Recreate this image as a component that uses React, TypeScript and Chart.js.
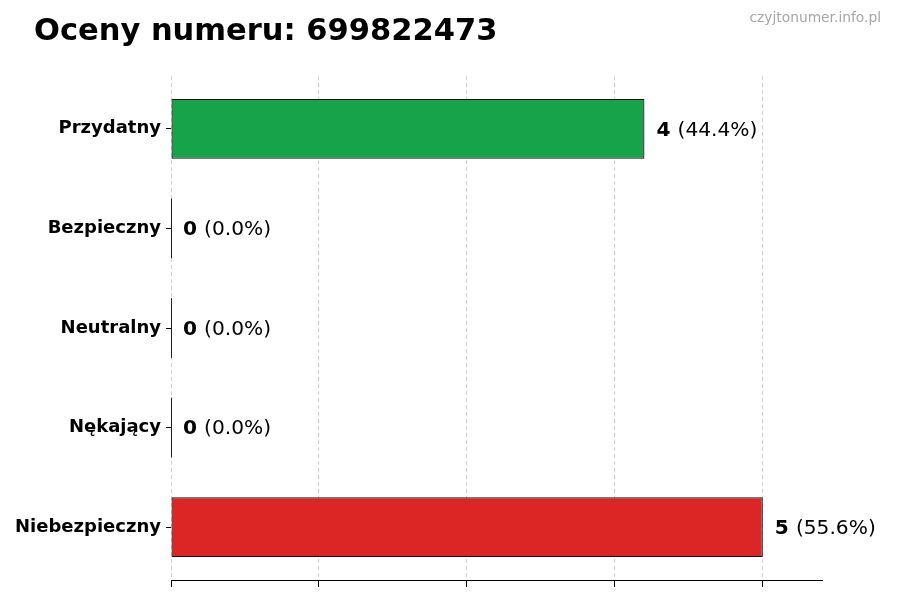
import { useEffect, useRef } from 'react'
import { Chart, registerables } from 'chart.js'

Chart.register(...registerables)

const title = 'Oceny numeru: 699822473'
const watermark = 'czyjtonumer.info.pl'
const categories = ['Przydatny', 'Bezpieczny', 'Neutralny', 'Nękający', 'Niebezpieczny']
const counts = [4, 0, 0, 0, 5]
const barColors = ['#16a34a', '#3b82f6', '#9ca3af', '#f97316', '#dc2626']
const xTicks = [0, 1.25, 2.5, 3.75, 5]
const xMax = 5.5

const FONT = '"DejaVu Sans", sans-serif'

export default function App() {
  const canvasRef = useRef<HTMLCanvasElement>(null)
  const chartRef = useRef<Chart | null>(null)

  useEffect(() => {
    if (!canvasRef.current) return
    const total = counts.reduce((a, b) => a + b, 0)

    const overlay = {
      id: 'overlay',
      afterDatasetsDraw(chart: any) {
        const ctx = chart.ctx
        const meta = chart.getDatasetMeta(0)
        ctx.save()
        meta.data.forEach((el: any, i: number) => {
          const v = counts[i]
          // zero-length bars still show their edge
          if (v === 0) {
            ctx.strokeStyle = '#222'
            ctx.lineWidth = 1
            ctx.beginPath()
            ctx.moveTo(el.x + 0.5, el.y - el.height / 2)
            ctx.lineTo(el.x + 0.5, el.y + el.height / 2)
            ctx.stroke()
          }
          const pct = ((v / total) * 100).toFixed(1)
          const x0 = el.x + 12
          const y0 = el.y + 1.5
          ctx.textBaseline = 'middle'
          ctx.textAlign = 'left'
          ctx.fillStyle = '#000'
          ctx.font = `bold 20.2px ${FONT}`
          const bold = String(v)
          ctx.fillText(bold, x0, y0)
          const w = ctx.measureText(bold + ' ').width
          ctx.font = `20.2px ${FONT}`
          ctx.fillText(`(${pct}%)`, x0 + w, y0)
        })
        ctx.restore()
      },
      afterDraw(chart: any) {
        const ctx = chart.ctx
        ctx.save()
        ctx.textBaseline = 'alphabetic'
        ctx.textAlign = 'left'
        ctx.fillStyle = '#000'
        ctx.font = `bold 30.5px ${FONT}`
        ctx.fillText(title, 34, 40)
        ctx.textAlign = 'right'
        ctx.fillStyle = '#a6a6a6'
        ctx.font = `13.8px ${FONT}`
        ctx.fillText(watermark, 881, 22)
        ctx.restore()
      },
    }

    chartRef.current?.destroy()
    chartRef.current = new Chart(canvasRef.current.getContext('2d')!, {
      type: 'bar',
      data: {
        datasets: [{
          data: counts.map((v, i) => ({ x: v, y: i })) as any,
          backgroundColor: barColors,
          borderColor: '#111',
          borderWidth: 1.2,
          borderSkipped: false,
          barPercentage: 0.6,
          categoryPercentage: 1,
        }],
      },
      options: {
        indexAxis: 'y',
        responsive: false,
        animation: false,
        devicePixelRatio: 1,
        layout: { padding: { top: 76, right: 78, bottom: 0, left: 0 } },
        plugins: { legend: { display: false }, tooltip: { enabled: false }, title: { display: false } },
        scales: {
          x: {
            type: 'linear',
            min: 0,
            max: xMax,
            offset: false,
            z: 1,
            afterBuildTicks: (s: any) => { s.ticks = xTicks.map((v) => ({ value: v })) },
            afterFit: (s: any) => { s.height = 20 },
            ticks: { display: false },
            grid: { offset: false, color: 'rgba(190,190,190,0.7)', lineWidth: 1, drawTicks: true, tickLength: 7, tickColor: '#000' },
            border: { display: true, color: '#000', width: 1, dash: [4, 3] },
          },
          y: {
            type: 'linear',
            reverse: true,
            offset: false,
            bounds: 'data',
            min: -0.53,
            max: categories.length - 1 + 0.53,
            afterBuildTicks: (s: any) => { s.ticks = categories.map((_, i) => ({ value: i })) },
            afterFit: (s: any) => { s.width = 171 },
            ticks: {
              callback: (v: any) => categories[v] ?? '',
              color: '#000',
              padding: 5,
              font: { family: FONT, size: 18, weight: 'bold' },
            },
            grid: { offset: false, drawOnChartArea: false, drawTicks: true, tickLength: 5, tickColor: '#000' },
            border: { display: false },
          },
        },
      },
      plugins: [overlay],
    })
    return () => { chartRef.current?.destroy() }
  }, [])

  return (
    <div style={{ position: 'fixed', left: 0, top: 0, width: 900, height: 600, background: '#fff' }}>
      <canvas ref={canvasRef} width={900} height={600} />
    </div>
  )
}
